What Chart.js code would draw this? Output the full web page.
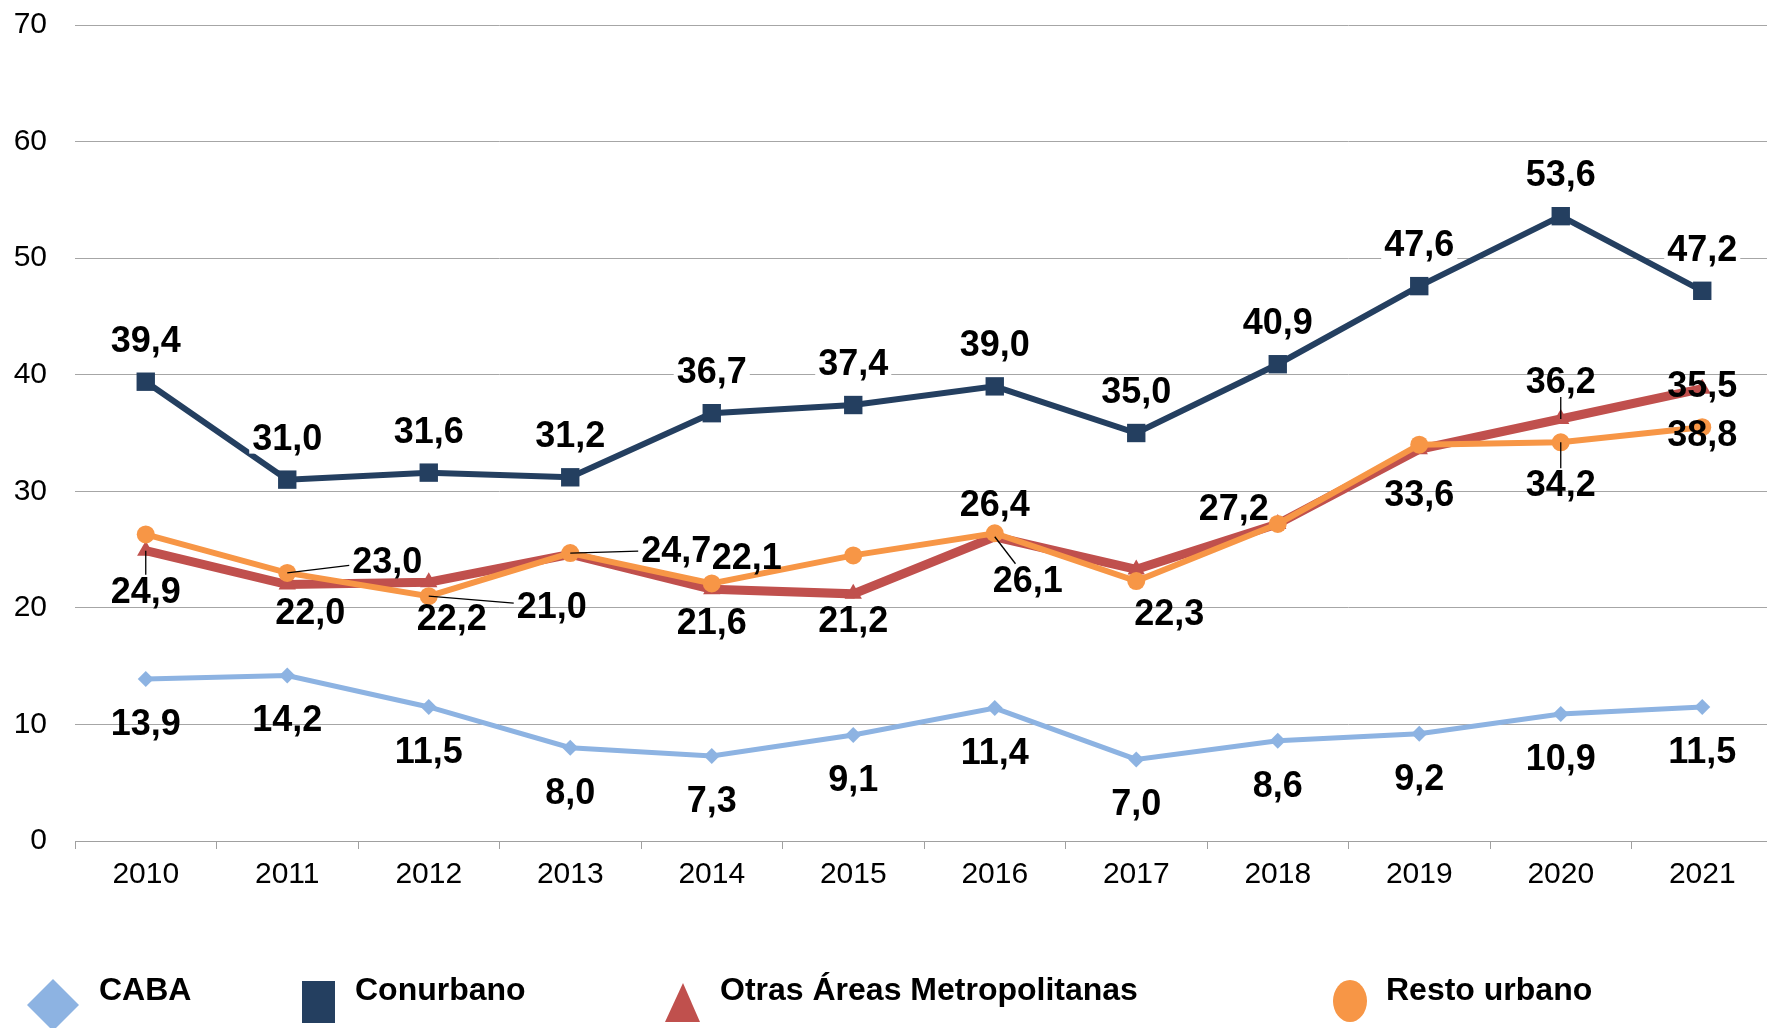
<!DOCTYPE html>
<html>
<head>
<meta charset="utf-8">
<script src="https://cdn.jsdelivr.net/npm/chart.js@4.4.1/dist/chart.umd.min.js"></script>
<style>
  html, body { margin: 0; padding: 0; background: #fff; overflow: hidden; }
  #wrap { width: 1767px; height: 1028px; overflow: hidden; }
  canvas { display: block; }
</style>
</head>
<body>
<div id="wrap"><canvas id="pobrezaChart" width="1786" height="1028"></canvas></div>
<script>
const years = ["2010", "2011", "2012", "2013", "2014", "2015", "2016", "2017", "2018", "2019", "2020", "2021"];

const caba = [13.9, 14.2, 11.5, 8.0, 7.3, 9.1, 11.4, 7.0, 8.6, 9.2, 10.9, 11.5];
const conurbano = [39.4, 31.0, 31.6, 31.2, 36.7, 37.4, 39.0, 35.0, 40.9, 47.6, 53.6, 47.2];
const otrasAreas = [24.9, 22.0, 22.2, 24.6, 21.6, 21.2, 26.1, 23.3, 27.2, 33.6, 36.2, 38.8];
const restoUrbano = [26.3, 23.0, 21.0, 24.7, 22.1, 24.5, 26.4, 22.3, 27.2, 34.0, 34.2, 35.5];

const yMin = 0;
const yMax = 70;
const yStep = 10;

// where each value label sits relative to its point (px); null = no label
const cabaLabelPos = years.map(() => [0, 44]);
const conurbanoLabelPos = years.map(() => [0, -42]);
const otrasLabelPos = [[0, 40], [23, 28], [23, 36], null, [0, 33], [0, 26], [33, 43], null, null, [0, 45], [0, -38], [0, 45]];
const restoLabelPos = [null, [100, -12], [123, 10], [106, -3], [35, -26], null, [0, -29], [33, 32], [-44, -16], null, [0, 42], [0, -42]];

const FONT = '"Liberation Sans", Arial, sans-serif';

function fmt(v) {
  return v.toFixed(1).replace(".", ",");
}

const pointLabels = {
  id: "pointLabels",
  afterDatasetsDraw(chart) {
    const ctx = chart.ctx;
    ctx.save();
    ctx.font = "bold 36px " + FONT;
    ctx.textAlign = "center";
    ctx.textBaseline = "middle";
    chart.data.datasets.forEach((ds, i) => {
      const meta = chart.getDatasetMeta(i);
      meta.data.forEach((pt, j) => {
        const off = ds.labelPos[j];
        if (!off) return;
        const text = fmt(ds.data[j]);
        const x = pt.x + off[0];
        const y = pt.y + off[1];
        const hw = ctx.measureText(text).width / 2 + 3;
        const hh = 16;
        if (ds.labelBg) {
          ctx.fillStyle = "#fff";
          ctx.fillRect(x - hw, y - hh, hw * 2, hh * 2);
        }
        if (ds.leaders && ds.leaders.includes(j)) {
          const dx = x - pt.x, dy = y - pt.y;
          let s = Infinity;
          if (dx !== 0) s = Math.min(s, hw / Math.abs(dx));
          if (dy !== 0) s = Math.min(s, hh / Math.abs(dy));
          ctx.strokeStyle = "#000";
          ctx.lineWidth = 1.3;
          ctx.beginPath();
          ctx.moveTo(pt.x, pt.y);
          ctx.lineTo(x - dx * s, y - dy * s);
          ctx.stroke();
        }
        ctx.fillStyle = "#000";
        ctx.fillText(text, x, y + 2);
      });
    });
    ctx.restore();
  }
};

// legend drawn by hand: Excel-style stretched symbols
const bottomLegend = {
  id: "bottomLegend",
  afterDraw(chart) {
    const ctx = chart.ctx;
    const ds = chart.data.datasets;
    ctx.save();

    ctx.fillStyle = ds[0].borderColor;
    ctx.beginPath();
    ctx.moveTo(53, 979);
    ctx.lineTo(79, 1005);
    ctx.lineTo(53, 1031);
    ctx.lineTo(27, 1005);
    ctx.closePath();
    ctx.fill();

    ctx.fillStyle = ds[1].borderColor;
    ctx.fillRect(302, 981, 33, 42);

    ctx.fillStyle = ds[2].borderColor;
    ctx.beginPath();
    ctx.moveTo(683, 983);
    ctx.lineTo(700, 1022);
    ctx.lineTo(665, 1022);
    ctx.closePath();
    ctx.fill();

    ctx.fillStyle = ds[3].borderColor;
    ctx.beginPath();
    ctx.ellipse(1350, 1001, 17, 21, 0, 0, Math.PI * 2);
    ctx.fill();

    ctx.fillStyle = "#000";
    ctx.font = "bold 32px " + FONT;
    ctx.textBaseline = "alphabetic";
    ctx.textAlign = "left";
    const textX = [99, 355, 720, 1386];
    ds.forEach((d, i) => ctx.fillText(d.label, textX[i], 1000));
    ctx.restore();
  }
};

const ctx = document.getElementById("pobrezaChart");

const data = {
  labels: years,
  datasets: [
    {
      label: "CABA",
      data: caba,
      borderColor: "#8DB3E2",
      backgroundColor: "#8DB3E2",
      borderWidth: 5,
      pointStyle: "rectRot",
      pointRadius: 8,
      pointBorderWidth: 0,
      labelPos: cabaLabelPos,
      order: 4
    },
    {
      label: "Conurbano",
      data: conurbano,
      borderColor: "#243F60",
      backgroundColor: "#243F60",
      borderWidth: 6,
      pointStyle: "rect",
      pointRadius: 13,
      pointBorderWidth: 0,
      labelPos: conurbanoLabelPos,
      labelBg: true,
      order: 3
    },
    {
      label: "Otras Áreas Metropolitanas",
      data: otrasAreas,
      borderColor: "#C0504D",
      backgroundColor: "#C0504D",
      borderWidth: 9,
      pointStyle: "triangle",
      pointRadius: 10,
      pointBorderWidth: 0,
      labelPos: otrasLabelPos,
      leaders: [0, 6, 10],
      order: 2
    },
    {
      label: "Resto urbano",
      data: restoUrbano,
      borderColor: "#F79646",
      backgroundColor: "#F79646",
      borderWidth: 6,
      pointStyle: "circle",
      pointRadius: 9,
      pointBorderWidth: 0,
      labelPos: restoLabelPos,
      leaders: [1, 2, 3, 10],
      order: 1
    }
  ]
};

const config = {
  type: "line",
  data: data,
  options: {
    responsive: false,
    animation: false,
    devicePixelRatio: 1,
    layout: { padding: { top: 25, left: 0, right: 0, bottom: 0 } },
    elements: { line: { tension: 0 } },
    scales: {
      x: {
        offset: true,
        grid: {
          offset: true,
          drawOnChartArea: false,
          drawTicks: true,
          tickLength: 8,
          color: "#A0A0A0"
        },
        border: { display: true, color: "#A0A0A0", width: 1 },
        ticks: {
          color: "#000",
          padding: 8,
          maxRotation: 0,
          font: { family: FONT, size: 30 }
        },
        afterFit(scale) { scale.height = 187; }
      },
      y: {
        min: yMin,
        max: yMax,
        grid: {
          color: "#A6A6A6",
          drawTicks: true,
          tickLength: 25,
          tickColor: "rgba(0,0,0,0)",
          lineWidth: 1
        },
        border: { display: false },
        ticks: {
          stepSize: yStep,
          color: "#000",
          padding: 3,
          font: { family: FONT, size: 30 }
        },
        afterFit(scale) { scale.width = 75; }
      }
    },
    plugins: {
      legend: { display: false },
      tooltip: { enabled: false },
      title: { display: false }
    }
  },
  plugins: [pointLabels, bottomLegend]
};

const pobrezaChart = new Chart(ctx, config);
</script>
</body>
</html>
